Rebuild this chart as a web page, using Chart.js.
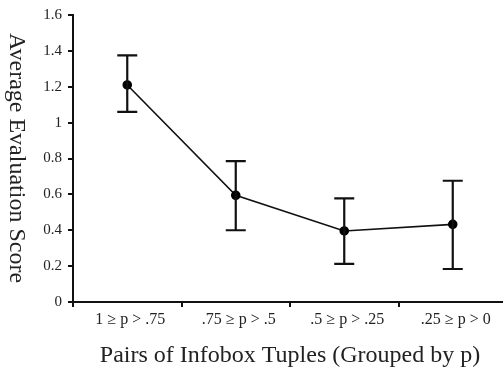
<!DOCTYPE html>
<html><head><meta charset="utf-8">
<script src="https://cdn.jsdelivr.net/npm/chart.js@4"></script>
<style>html,body{margin:0;padding:0;background:#fff}#wrap{width:503px;height:369px}</style>
</head><body><div id="wrap"><canvas id="c" width="503" height="369"></canvas></div>
<script>
const categories = ["1 \u2265 p > .75", ".75 \u2265 p > .5", ".5 \u2265 p > .25", ".25 \u2265 p > 0"];
const means = [1.21, 0.595, 0.396, 0.433];
const errUpper = [1.375, 0.785, 0.578, 0.676];
const errLower = [1.06, 0.40, 0.212, 0.184];
const yTicks = [0, 0.2, 0.4, 0.6, 0.8, 1, 1.2, 1.4, 1.6];
const xTitle = "Pairs of Infobox Tuples (Grouped by p)";
const yTitle = "Average Evaluation Score";
const FONT = "'Liberation Serif', 'DejaVu Serif', serif";

const errorBars = {
  id: 'errorBars',
  afterDatasetsDraw(chart) {
    const ctx = chart.ctx, xs = chart.scales.x, ys = chart.scales.y;
    ctx.save();
    ctx.strokeStyle = '#111'; ctx.lineWidth = 2.2;
    categories.forEach((c, i) => {
      const x = xs.getPixelForValue(i);
      const yt = ys.getPixelForValue(errUpper[i]);
      const yb = ys.getPixelForValue(errLower[i]);
      ctx.beginPath();
      ctx.moveTo(x, yt); ctx.lineTo(x, yb);
      ctx.moveTo(x - 10, yt); ctx.lineTo(x + 10, yt);
      ctx.moveTo(x - 10, yb); ctx.lineTo(x + 10, yb);
      ctx.stroke();
    });
    ctx.restore();
  }
};
// the original axis runs slightly past the right edge of the picture
const widenX = {
  id: 'widenX',
  afterLayout(chart) {
    const s = chart.scales.x;
    s.right = s.left + 434;
    s.width = 434;
    s.configure();
  }
};
const titles = {
  id: 'titles',
  afterDraw(chart) {
    const ctx = chart.ctx;
    ctx.save();
    ctx.fillStyle = '#222';
    ctx.font = "24px " + FONT;
    ctx.textAlign = 'center'; ctx.textBaseline = 'alphabetic';
    ctx.fillText(xTitle, 290, 362);
    ctx.translate(10, 158);
    ctx.rotate(Math.PI / 2);
    ctx.fillText(yTitle, 0, 0);
    ctx.restore();
  }
};

new Chart(document.getElementById('c'), {
  type: 'line',
  data: {
    labels: categories,
    datasets: [{
      data: means,
      borderColor: '#111', borderWidth: 1.6,
      pointBackgroundColor: '#000', pointBorderColor: '#000',
      pointRadius: 4, tension: 0, fill: false, clip: false
    }]
  },
  options: {
    responsive: false, animation: false,
    layout: { autoPadding: false, padding: { top: 15, right: 0, left: 0, bottom: 0 } },
    plugins: { legend: { display: false }, tooltip: { enabled: false } },
    scales: {
      x: {
        type: 'category', offset: true,
        grid: { offset: true, drawOnChartArea: false, color: '#111', tickLength: 5, lineWidth: 2 },
        border: { color: '#111', width: 2 },
        ticks: { color: '#222', font: { family: FONT, size: 16 }, padding: 3, maxRotation: 0, labelOffset: 3 },
        afterFit(s) { s.height = 67; }
      },
      y: {
        min: 0, max: 1.6,
        afterBuildTicks(s) { s.ticks = yTicks.map(v => ({ value: v })); },
        grid: { drawOnChartArea: false, color: '#111', tickLength: 5, lineWidth: 2 },
        border: { color: '#111', width: 2 },
        ticks: { color: '#222', font: { family: FONT, size: 15 }, padding: 6,
                 callback: v => String(v) },
        afterFit(s) { s.width = 73; }
      }
    }
  },
  plugins: [widenX, errorBars, titles]
});
</script></body></html>
